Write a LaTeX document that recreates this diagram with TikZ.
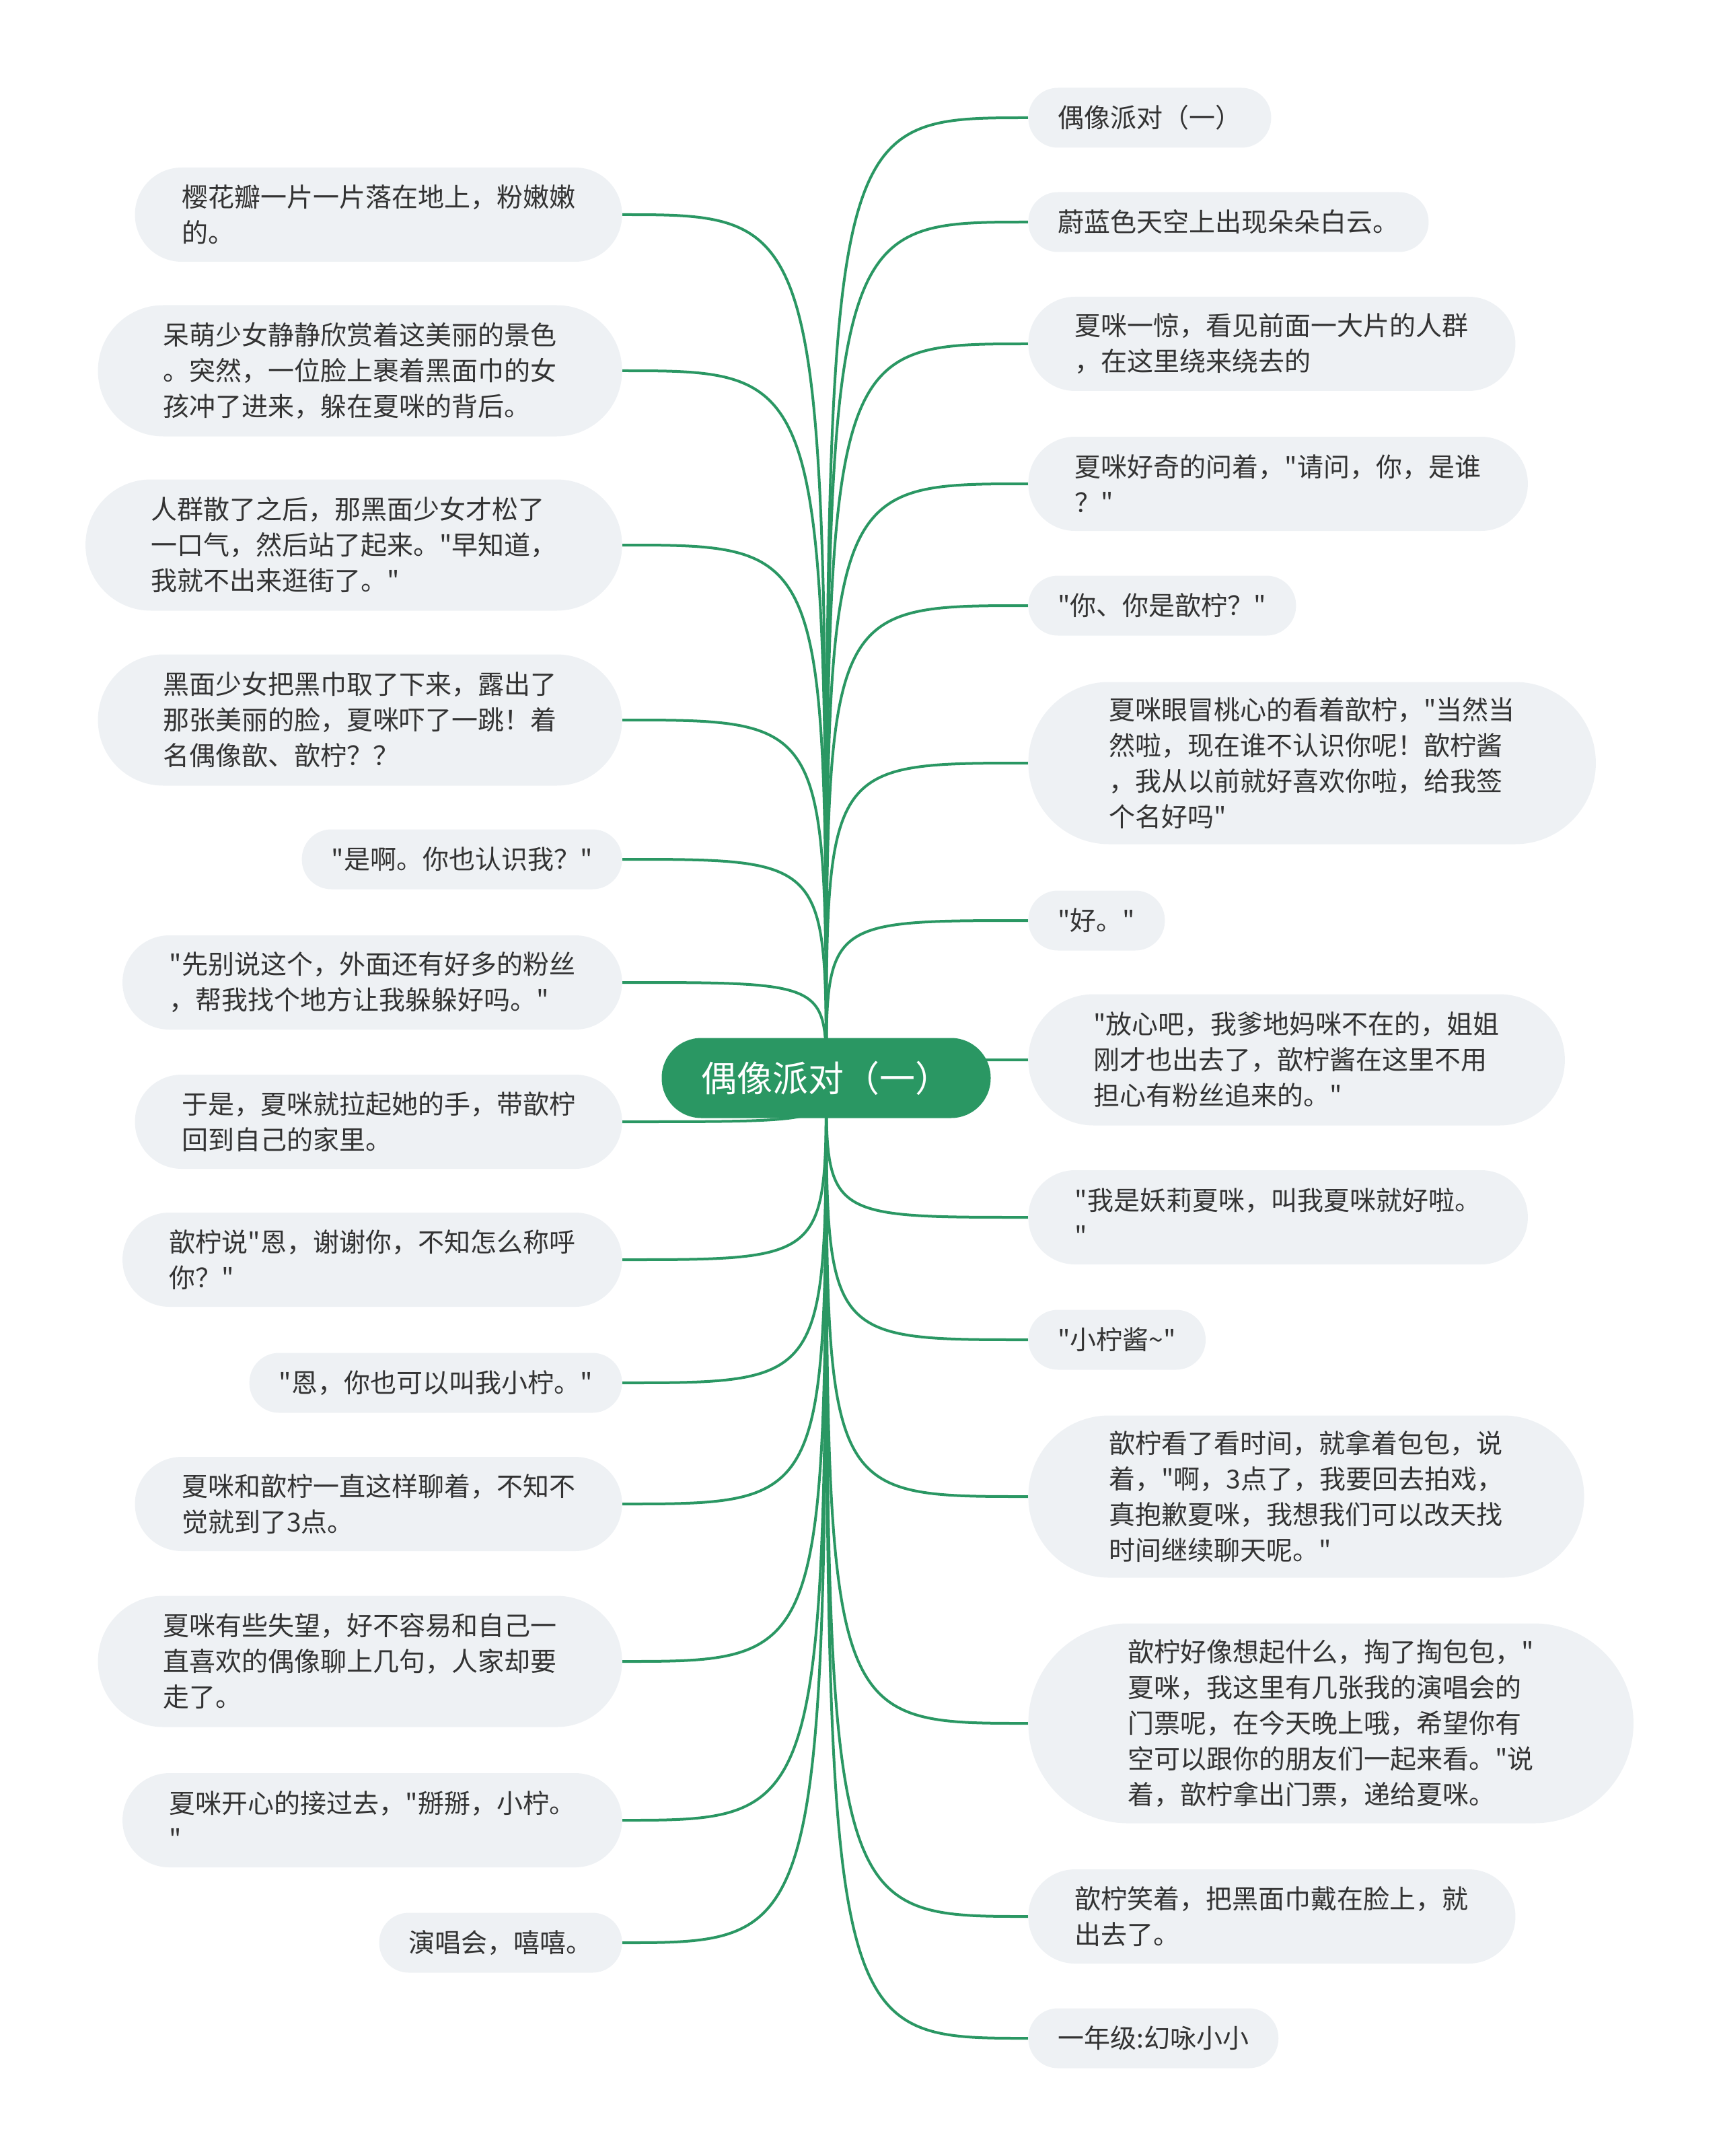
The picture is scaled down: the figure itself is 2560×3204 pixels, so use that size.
\documentclass[tikz,border=0pt]{standalone}
\usepackage{fontspec}
\newfontfamily\phongchu{Noto Sans CJK SC}
\usetikzlibrary{backgrounds}
\definecolor{xanh}{RGB}{42,151,99}
\definecolor{xam}{RGB}{238,241,244}
\definecolor{chu}{RGB}{51,51,51}
\tikzset{
  la/.style={rectangle, fill=xam, text=chu, align=left, rounded corners=#1, inner xsep=#1,
    inner ysep=8pt, minimum height=2*#1+0.5pt,
    font={\phongchu\fontsize{19.5pt}{26.5pt}\selectfont}},
  lap/.style={la=#1, anchor=west},
  lat/.style={la=#1, anchor=east},
  nhanh/.style={draw=xanh, line width=2pt},
}
\begin{document}
\begin{tikzpicture}[x=0.5pt, y=-0.5pt]
	\useasboundingbox (0,0) rectangle (2560,3204);
	\node[rectangle, fill=xanh, text=white, rounded corners=29.5pt, inner xsep=29.5pt, inner ysep=8pt,
		minimum height=59.5pt, font={\phongchu\fontsize{26.5pt}{30pt}\selectfont}] (goc) at (1228,1602) {偶像派对（一）};
	% ben phai
	\node[lap=22pt] (p1) at (1528,175) {偶像派对（一）};
	\node[lap=22pt] (p2) at (1528,330) {蔚蓝色天空上出现朵朵白云。};
	\node[lap=34.75pt] (p3) at (1528,511) {夏咪一惊，看见前面一大片的人群\\，在这里绕来绕去的};
	\node[lap=34.75pt] (p4) at (1528,719) {夏咪好奇的问着，"请问，你，是谁\\？"};
	\node[lap=22pt] (p5) at (1528,900) {"你、你是歆柠？"};
	\node[lap=60pt] (p6) at (1528,1134) {夏咪眼冒桃心的看着歆柠，"当然当\\然啦，现在谁不认识你呢！歆柠酱\\，我从以前就好喜欢你啦，给我签\\个名好吗"};
	\node[lap=22pt] (p7) at (1528,1368) {"好。"};
	\node[lap=48.5pt] (p8) at (1528,1575) {"放心吧，我爹地妈咪不在的，姐姐\\刚才也出去了，歆柠酱在这里不用\\担心有粉丝追来的。"};
	\node[lap=34.75pt] (p9) at (1528,1809) {"我是妖莉夏咪，叫我夏咪就好啦。\\"};
	\node[lap=22pt] (p10) at (1528,1991) {"小柠酱\textasciitilde"};
	\node[lap=60pt] (p11) at (1528,2224) {歆柠看了看时间，就拿着包包，说\\着，"啊，3点了，我要回去拍戏，\\真抱歉夏咪，我想我们可以改天找\\时间继续聊天呢。"};
	\node[lap=74pt] (p12) at (1528,2561) {歆柠好像想起什么，掏了掏包包，"\\夏咪，我这里有几张我的演唱会的\\门票呢，在今天晚上哦，希望你有\\空可以跟你的朋友们一起来看。"说\\着，歆柠拿出门票，递给夏咪。};
	\node[lap=34.75pt] (p13) at (1528,2848) {歆柠笑着，把黑面巾戴在脸上，就\\出去了。};
	\node[lap=22pt] (p14) at (1528,3029) {一年级:幻咏小小};
	% ben trai
	\node[lat=34.75pt] (t1) at (925,319) {樱花瓣一片一片落在地上，粉嫩嫩\\的。};
	\node[lat=48.5pt] (t2) at (925,551) {呆萌少女静静欣赏着这美丽的景色\\。突然，一位脸上裹着黑面巾的女\\孩冲了进来，躲在夏咪的背后。};
	\node[lat=48.5pt] (t3) at (925,810) {人群散了之后，那黑面少女才松了\\一口气，然后站了起来。"早知道，\\我就不出来逛街了。"};
	\node[lat=48.5pt] (t4) at (925,1070) {黑面少女把黑巾取了下来，露出了\\那张美丽的脸，夏咪吓了一跳！着\\名偶像歆、歆柠？？};
	\node[lat=22pt] (t5) at (925,1277) {"是啊。你也认识我？"};
	\node[lat=34.75pt] (t6) at (925,1460) {"先别说这个，外面还有好多的粉丝\\，帮我找个地方让我躲躲好吗。"};
	\node[lat=34.75pt] (t7) at (925,1667) {于是，夏咪就拉起她的手，带歆柠\\回到自己的家里。};
	\node[lat=34.75pt] (t8) at (925,1872) {歆柠说"恩，谢谢你，不知怎么称呼\\你？"};
	\node[lat=22pt] (t9) at (925,2055) {"恩，你也可以叫我小柠。"};
	\node[lat=34.75pt] (t10) at (925,2235) {夏咪和歆柠一直这样聊着，不知不\\觉就到了3点。};
	\node[lat=48.5pt] (t11) at (925,2469) {夏咪有些失望，好不容易和自己一\\直喜欢的偶像聊上几句，人家却要\\走了。};
	\node[lat=34.75pt] (t12) at (925,2705) {夏咪开心的接过去，"掰掰，小柠。\\"};
	\node[lat=22pt] (t13) at (925,2887) {演唱会，嘻嘻。};
	% cac nhanh
	\begin{scope}[on background layer]
		\foreach \nut in {p1,p2,p3,p4,p5,p6,p7,p8,p9,p10,p11,p12,p13,p14}
		\draw[nhanh] (goc.center) .. controls (goc.center |- \nut.west) .. (\nut.west);
		\foreach \nut in {t1,t2,t3,t4,t5,t6,t7,t8,t9,t10,t11,t12,t13}
		\draw[nhanh] (goc.center) .. controls (goc.center |- \nut.east) .. (\nut.east);
	\end{scope}
\end{tikzpicture}
\end{document}
